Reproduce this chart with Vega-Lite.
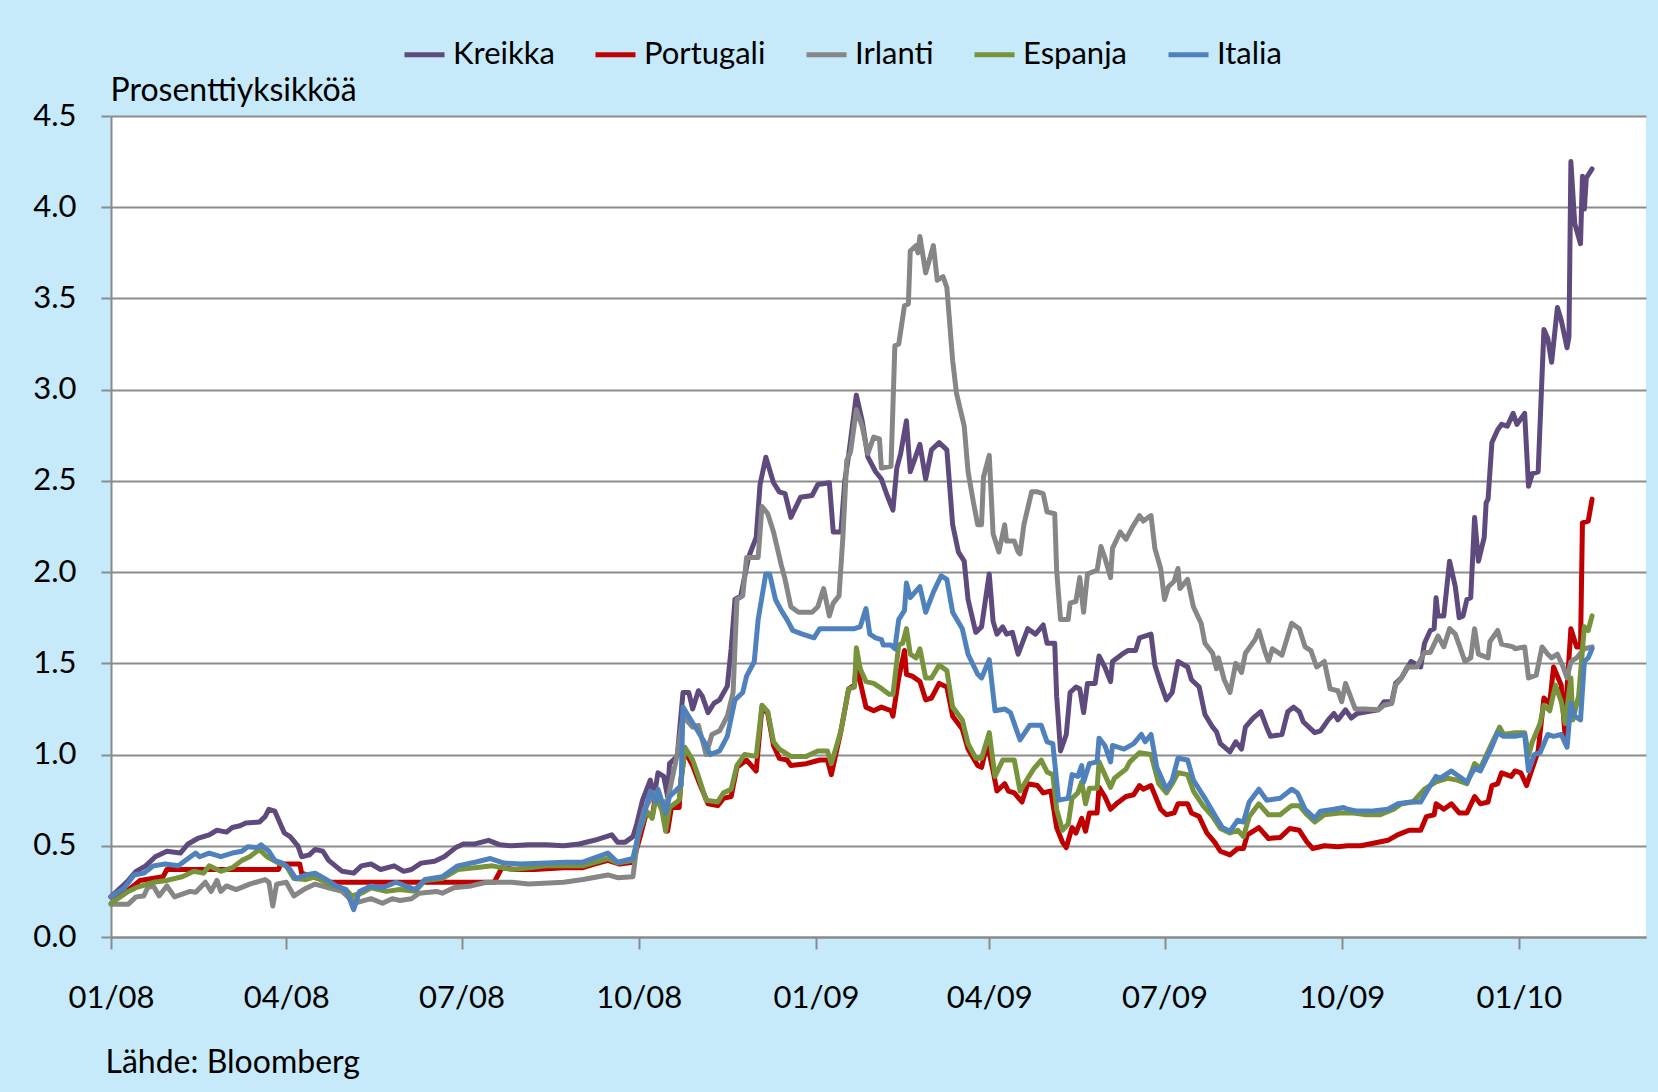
{
"$schema": "https://vega.github.io/schema/vega-lite/v6.json",
"width": 1535, "height": 821,
"autosize": {"type": "none"},
"padding": {"left": 111, "top": 116, "right": 12, "bottom": 155},
"background": "#c6eaf9",
"config": {"view": {"fill": "white", "stroke": null}, "font": "Lato"},
"data": {"values": [
{"d":"2008-01-01","s":"Kreikka","v":0.22},{"d":"2008-01-10","s":"Kreikka","v":0.31},{"d":"2008-01-14","s":"Kreikka","v":0.36},{"d":"2008-01-19","s":"Kreikka","v":0.39},{"d":"2008-01-24","s":"Kreikka","v":0.44},{"d":"2008-01-30","s":"Kreikka","v":0.47},{"d":"2008-02-06","s":"Kreikka","v":0.46},{"d":"2008-02-10","s":"Kreikka","v":0.51},{"d":"2008-02-15","s":"Kreikka","v":0.54},{"d":"2008-02-21","s":"Kreikka","v":0.56},{"d":"2008-02-25","s":"Kreikka","v":0.585},{"d":"2008-03-01","s":"Kreikka","v":0.575},{"d":"2008-03-04","s":"Kreikka","v":0.60},{"d":"2008-03-08","s":"Kreikka","v":0.61},{"d":"2008-03-11","s":"Kreikka","v":0.625},{"d":"2008-03-18","s":"Kreikka","v":0.63},{"d":"2008-03-21","s":"Kreikka","v":0.66},{"d":"2008-03-23","s":"Kreikka","v":0.70},{"d":"2008-03-26","s":"Kreikka","v":0.69},{"d":"2008-03-31","s":"Kreikka","v":0.57},{"d":"2008-04-03","s":"Kreikka","v":0.55},{"d":"2008-04-07","s":"Kreikka","v":0.50},{"d":"2008-04-09","s":"Kreikka","v":0.44},{"d":"2008-04-13","s":"Kreikka","v":0.45},{"d":"2008-04-16","s":"Kreikka","v":0.48},{"d":"2008-04-20","s":"Kreikka","v":0.47},{"d":"2008-04-23","s":"Kreikka","v":0.42},{"d":"2008-04-30","s":"Kreikka","v":0.36},{"d":"2008-05-06","s":"Kreikka","v":0.35},{"d":"2008-05-10","s":"Kreikka","v":0.39},{"d":"2008-05-15","s":"Kreikka","v":0.40},{"d":"2008-05-20","s":"Kreikka","v":0.37},{"d":"2008-05-27","s":"Kreikka","v":0.39},{"d":"2008-06-01","s":"Kreikka","v":0.36},{"d":"2008-06-05","s":"Kreikka","v":0.37},{"d":"2008-06-10","s":"Kreikka","v":0.405},{"d":"2008-06-17","s":"Kreikka","v":0.415},{"d":"2008-06-22","s":"Kreikka","v":0.44},{"d":"2008-06-28","s":"Kreikka","v":0.49},{"d":"2008-07-02","s":"Kreikka","v":0.51},{"d":"2008-07-08","s":"Kreikka","v":0.51},{"d":"2008-07-15","s":"Kreikka","v":0.53},{"d":"2008-07-21","s":"Kreikka","v":0.505},{"d":"2008-07-27","s":"Kreikka","v":0.50},{"d":"2008-08-05","s":"Kreikka","v":0.505},{"d":"2008-08-14","s":"Kreikka","v":0.505},{"d":"2008-08-23","s":"Kreikka","v":0.50},{"d":"2008-08-31","s":"Kreikka","v":0.51},{"d":"2008-09-08","s":"Kreikka","v":0.53},{"d":"2008-09-17","s":"Kreikka","v":0.56},{"d":"2008-09-20","s":"Kreikka","v":0.52},{"d":"2008-09-24","s":"Kreikka","v":0.52},{"d":"2008-09-28","s":"Kreikka","v":0.55},{"d":"2008-09-30","s":"Kreikka","v":0.62},{"d":"2008-10-03","s":"Kreikka","v":0.75},{"d":"2008-10-07","s":"Kreikka","v":0.86},{"d":"2008-10-09","s":"Kreikka","v":0.77},{"d":"2008-10-11","s":"Kreikka","v":0.90},{"d":"2008-10-14","s":"Kreikka","v":0.88},{"d":"2008-10-16","s":"Kreikka","v":0.77},{"d":"2008-10-17","s":"Kreikka","v":0.95},{"d":"2008-10-21","s":"Kreikka","v":0.99},{"d":"2008-10-24","s":"Kreikka","v":1.34},{"d":"2008-10-27","s":"Kreikka","v":1.34},{"d":"2008-10-29","s":"Kreikka","v":1.25},{"d":"2008-11-01","s":"Kreikka","v":1.35},{"d":"2008-11-03","s":"Kreikka","v":1.32},{"d":"2008-11-06","s":"Kreikka","v":1.23},{"d":"2008-11-09","s":"Kreikka","v":1.28},{"d":"2008-11-12","s":"Kreikka","v":1.30},{"d":"2008-11-16","s":"Kreikka","v":1.375},{"d":"2008-11-18","s":"Kreikka","v":1.58},{"d":"2008-11-20","s":"Kreikka","v":1.85},{"d":"2008-11-23","s":"Kreikka","v":1.87},{"d":"2008-11-27","s":"Kreikka","v":2.08},{"d":"2008-12-01","s":"Kreikka","v":2.19},{"d":"2008-12-03","s":"Kreikka","v":2.48},{"d":"2008-12-06","s":"Kreikka","v":2.63},{"d":"2008-12-10","s":"Kreikka","v":2.49},{"d":"2008-12-13","s":"Kreikka","v":2.44},{"d":"2008-12-16","s":"Kreikka","v":2.43},{"d":"2008-12-19","s":"Kreikka","v":2.30},{"d":"2008-12-24","s":"Kreikka","v":2.41},{"d":"2008-12-30","s":"Kreikka","v":2.42},{"d":"2009-01-02","s":"Kreikka","v":2.48},{"d":"2009-01-08","s":"Kreikka","v":2.49},{"d":"2009-01-10","s":"Kreikka","v":2.22},{"d":"2009-01-14","s":"Kreikka","v":2.22},{"d":"2009-01-16","s":"Kreikka","v":2.50},{"d":"2009-01-18","s":"Kreikka","v":2.64},{"d":"2009-01-22","s":"Kreikka","v":2.97},{"d":"2009-01-25","s":"Kreikka","v":2.83},{"d":"2009-01-28","s":"Kreikka","v":2.63},{"d":"2009-02-01","s":"Kreikka","v":2.55},{"d":"2009-02-04","s":"Kreikka","v":2.51},{"d":"2009-02-07","s":"Kreikka","v":2.42},{"d":"2009-02-10","s":"Kreikka","v":2.34},{"d":"2009-02-12","s":"Kreikka","v":2.57},{"d":"2009-02-14","s":"Kreikka","v":2.65},{"d":"2009-02-17","s":"Kreikka","v":2.83},{"d":"2009-02-19","s":"Kreikka","v":2.55},{"d":"2009-02-21","s":"Kreikka","v":2.61},{"d":"2009-02-24","s":"Kreikka","v":2.70},{"d":"2009-02-27","s":"Kreikka","v":2.51},{"d":"2009-03-02","s":"Kreikka","v":2.67},{"d":"2009-03-06","s":"Kreikka","v":2.71},{"d":"2009-03-10","s":"Kreikka","v":2.67},{"d":"2009-03-13","s":"Kreikka","v":2.26},{"d":"2009-03-16","s":"Kreikka","v":2.11},{"d":"2009-03-19","s":"Kreikka","v":2.06},{"d":"2009-03-21","s":"Kreikka","v":1.85},{"d":"2009-03-25","s":"Kreikka","v":1.67},{"d":"2009-03-28","s":"Kreikka","v":1.70},{"d":"2009-04-01","s":"Kreikka","v":1.99},{"d":"2009-04-03","s":"Kreikka","v":1.73},{"d":"2009-04-05","s":"Kreikka","v":1.66},{"d":"2009-04-08","s":"Kreikka","v":1.70},{"d":"2009-04-10","s":"Kreikka","v":1.66},{"d":"2009-04-13","s":"Kreikka","v":1.67},{"d":"2009-04-16","s":"Kreikka","v":1.55},{"d":"2009-04-21","s":"Kreikka","v":1.69},{"d":"2009-04-25","s":"Kreikka","v":1.66},{"d":"2009-04-29","s":"Kreikka","v":1.71},{"d":"2009-05-01","s":"Kreikka","v":1.61},{"d":"2009-05-05","s":"Kreikka","v":1.61},{"d":"2009-05-06","s":"Kreikka","v":1.32},{"d":"2009-05-08","s":"Kreikka","v":1.02},{"d":"2009-05-11","s":"Kreikka","v":1.11},{"d":"2009-05-13","s":"Kreikka","v":1.34},{"d":"2009-05-16","s":"Kreikka","v":1.37},{"d":"2009-05-18","s":"Kreikka","v":1.36},{"d":"2009-05-20","s":"Kreikka","v":1.23},{"d":"2009-05-22","s":"Kreikka","v":1.39},{"d":"2009-05-26","s":"Kreikka","v":1.39},{"d":"2009-05-28","s":"Kreikka","v":1.54},{"d":"2009-05-31","s":"Kreikka","v":1.48},{"d":"2009-06-03","s":"Kreikka","v":1.40},{"d":"2009-06-04","s":"Kreikka","v":1.51},{"d":"2009-06-09","s":"Kreikka","v":1.55},{"d":"2009-06-12","s":"Kreikka","v":1.57},{"d":"2009-06-16","s":"Kreikka","v":1.57},{"d":"2009-06-18","s":"Kreikka","v":1.64},{"d":"2009-06-24","s":"Kreikka","v":1.66},{"d":"2009-06-26","s":"Kreikka","v":1.49},{"d":"2009-06-29","s":"Kreikka","v":1.39},{"d":"2009-07-02","s":"Kreikka","v":1.30},{"d":"2009-07-05","s":"Kreikka","v":1.34},{"d":"2009-07-08","s":"Kreikka","v":1.51},{"d":"2009-07-13","s":"Kreikka","v":1.48},{"d":"2009-07-15","s":"Kreikka","v":1.41},{"d":"2009-07-19","s":"Kreikka","v":1.37},{"d":"2009-07-22","s":"Kreikka","v":1.22},{"d":"2009-07-26","s":"Kreikka","v":1.15},{"d":"2009-07-28","s":"Kreikka","v":1.125},{"d":"2009-07-30","s":"Kreikka","v":1.06},{"d":"2009-08-04","s":"Kreikka","v":1.015},{"d":"2009-08-07","s":"Kreikka","v":1.07},{"d":"2009-08-10","s":"Kreikka","v":1.03},{"d":"2009-08-12","s":"Kreikka","v":1.15},{"d":"2009-08-16","s":"Kreikka","v":1.20},{"d":"2009-08-20","s":"Kreikka","v":1.235},{"d":"2009-08-23","s":"Kreikka","v":1.15},{"d":"2009-08-25","s":"Kreikka","v":1.10},{"d":"2009-08-31","s":"Kreikka","v":1.11},{"d":"2009-09-03","s":"Kreikka","v":1.235},{"d":"2009-09-06","s":"Kreikka","v":1.26},{"d":"2009-09-09","s":"Kreikka","v":1.235},{"d":"2009-09-11","s":"Kreikka","v":1.18},{"d":"2009-09-17","s":"Kreikka","v":1.12},{"d":"2009-09-20","s":"Kreikka","v":1.13},{"d":"2009-09-24","s":"Kreikka","v":1.19},{"d":"2009-09-27","s":"Kreikka","v":1.225},{"d":"2009-09-29","s":"Kreikka","v":1.19},{"d":"2009-10-03","s":"Kreikka","v":1.245},{"d":"2009-10-06","s":"Kreikka","v":1.20},{"d":"2009-10-09","s":"Kreikka","v":1.225},{"d":"2009-10-14","s":"Kreikka","v":1.235},{"d":"2009-10-20","s":"Kreikka","v":1.245},{"d":"2009-10-23","s":"Kreikka","v":1.29},{"d":"2009-10-27","s":"Kreikka","v":1.29},{"d":"2009-10-29","s":"Kreikka","v":1.39},{"d":"2009-11-01","s":"Kreikka","v":1.42},{"d":"2009-11-06","s":"Kreikka","v":1.51},{"d":"2009-11-11","s":"Kreikka","v":1.48},{"d":"2009-11-13","s":"Kreikka","v":1.61},{"d":"2009-11-16","s":"Kreikka","v":1.68},{"d":"2009-11-18","s":"Kreikka","v":1.69},{"d":"2009-11-19","s":"Kreikka","v":1.86},{"d":"2009-11-20","s":"Kreikka","v":1.76},{"d":"2009-11-23","s":"Kreikka","v":1.76},{"d":"2009-11-26","s":"Kreikka","v":2.06},{"d":"2009-11-29","s":"Kreikka","v":1.92},{"d":"2009-12-01","s":"Kreikka","v":1.75},{"d":"2009-12-03","s":"Kreikka","v":1.76},{"d":"2009-12-05","s":"Kreikka","v":1.85},{"d":"2009-12-07","s":"Kreikka","v":1.86},{"d":"2009-12-09","s":"Kreikka","v":2.30},{"d":"2009-12-11","s":"Kreikka","v":2.06},{"d":"2009-12-14","s":"Kreikka","v":2.19},{"d":"2009-12-15","s":"Kreikka","v":2.38},{"d":"2009-12-16","s":"Kreikka","v":2.40},{"d":"2009-12-18","s":"Kreikka","v":2.71},{"d":"2009-12-21","s":"Kreikka","v":2.78},{"d":"2009-12-23","s":"Kreikka","v":2.81},{"d":"2009-12-26","s":"Kreikka","v":2.80},{"d":"2009-12-29","s":"Kreikka","v":2.87},{"d":"2009-12-31","s":"Kreikka","v":2.81},{"d":"2010-01-04","s":"Kreikka","v":2.87},{"d":"2010-01-06","s":"Kreikka","v":2.47},{"d":"2010-01-08","s":"Kreikka","v":2.54},{"d":"2010-01-11","s":"Kreikka","v":2.55},{"d":"2010-01-14","s":"Kreikka","v":3.33},{"d":"2010-01-16","s":"Kreikka","v":3.28},{"d":"2010-01-18","s":"Kreikka","v":3.15},{"d":"2010-01-21","s":"Kreikka","v":3.45},{"d":"2010-01-23","s":"Kreikka","v":3.38},{"d":"2010-01-26","s":"Kreikka","v":3.23},{"d":"2010-01-27","s":"Kreikka","v":3.29},{"d":"2010-01-28","s":"Kreikka","v":4.25},{"d":"2010-01-30","s":"Kreikka","v":3.91},{"d":"2010-02-02","s":"Kreikka","v":3.80},{"d":"2010-02-03","s":"Kreikka","v":4.17},{"d":"2010-02-04","s":"Kreikka","v":3.99},{"d":"2010-02-05","s":"Kreikka","v":4.16},{"d":"2010-02-08","s":"Kreikka","v":4.21},
{"d":"2008-01-01","s":"Portugali","v":0.22},{"d":"2008-01-09","s":"Portugali","v":0.25},{"d":"2008-01-15","s":"Portugali","v":0.30},{"d":"2008-01-16","s":"Portugali","v":0.31},{"d":"2008-01-28","s":"Portugali","v":0.33},{"d":"2008-01-30","s":"Portugali","v":0.37},{"d":"2008-03-28","s":"Portugali","v":0.37},{"d":"2008-03-29","s":"Portugali","v":0.40},{"d":"2008-04-08","s":"Portugali","v":0.40},{"d":"2008-04-09","s":"Portugali","v":0.35},{"d":"2008-04-15","s":"Portugali","v":0.33},{"d":"2008-04-23","s":"Portugali","v":0.30},{"d":"2008-07-18","s":"Portugali","v":0.30},{"d":"2008-07-22","s":"Portugali","v":0.38},{"d":"2008-07-29","s":"Portugali","v":0.37},{"d":"2008-08-08","s":"Portugali","v":0.37},{"d":"2008-08-23","s":"Portugali","v":0.38},{"d":"2008-09-02","s":"Portugali","v":0.38},{"d":"2008-09-08","s":"Portugali","v":0.40},{"d":"2008-09-15","s":"Portugali","v":0.42},{"d":"2008-09-21","s":"Portugali","v":0.40},{"d":"2008-09-28","s":"Portugali","v":0.41},{"d":"2008-10-02","s":"Portugali","v":0.56},{"d":"2008-10-05","s":"Portugali","v":0.68},{"d":"2008-10-08","s":"Portugali","v":0.66},{"d":"2008-10-10","s":"Portugali","v":0.79},{"d":"2008-10-14","s":"Portugali","v":0.67},{"d":"2008-10-16","s":"Portugali","v":0.58},{"d":"2008-10-18","s":"Portugali","v":0.71},{"d":"2008-10-22","s":"Portugali","v":0.71},{"d":"2008-10-23","s":"Portugali","v":0.87},{"d":"2008-10-25","s":"Portugali","v":1.02},{"d":"2008-10-29","s":"Portugali","v":0.94},{"d":"2008-11-02","s":"Portugali","v":0.83},{"d":"2008-11-06","s":"Portugali","v":0.73},{"d":"2008-11-11","s":"Portugali","v":0.72},{"d":"2008-11-14","s":"Portugali","v":0.76},{"d":"2008-11-18","s":"Portugali","v":0.77},{"d":"2008-11-21","s":"Portugali","v":0.93},{"d":"2008-11-26","s":"Portugali","v":0.97},{"d":"2008-12-01","s":"Portugali","v":0.91},{"d":"2008-12-04","s":"Portugali","v":1.26},{"d":"2008-12-07","s":"Portugali","v":1.225},{"d":"2008-12-10","s":"Portugali","v":1.05},{"d":"2008-12-13","s":"Portugali","v":0.98},{"d":"2008-12-17","s":"Portugali","v":0.97},{"d":"2008-12-19","s":"Portugali","v":0.94},{"d":"2008-12-27","s":"Portugali","v":0.95},{"d":"2009-01-03","s":"Portugali","v":0.97},{"d":"2009-01-07","s":"Portugali","v":0.97},{"d":"2009-01-09","s":"Portugali","v":0.89},{"d":"2009-01-14","s":"Portugali","v":1.13},{"d":"2009-01-18","s":"Portugali","v":1.36},{"d":"2009-01-21","s":"Portugali","v":1.38},{"d":"2009-01-22","s":"Portugali","v":1.49},{"d":"2009-01-27","s":"Portugali","v":1.26},{"d":"2009-01-31","s":"Portugali","v":1.24},{"d":"2009-02-04","s":"Portugali","v":1.26},{"d":"2009-02-09","s":"Portugali","v":1.24},{"d":"2009-02-10","s":"Portugali","v":1.21},{"d":"2009-02-13","s":"Portugali","v":1.42},{"d":"2009-02-16","s":"Portugali","v":1.57},{"d":"2009-02-17","s":"Portugali","v":1.44},{"d":"2009-02-20","s":"Portugali","v":1.43},{"d":"2009-02-24","s":"Portugali","v":1.40},{"d":"2009-02-27","s":"Portugali","v":1.30},{"d":"2009-03-02","s":"Portugali","v":1.31},{"d":"2009-03-06","s":"Portugali","v":1.39},{"d":"2009-03-10","s":"Portugali","v":1.37},{"d":"2009-03-13","s":"Portugali","v":1.21},{"d":"2009-03-18","s":"Portugali","v":1.14},{"d":"2009-03-21","s":"Portugali","v":1.03},{"d":"2009-03-26","s":"Portugali","v":0.94},{"d":"2009-03-28","s":"Portugali","v":0.93},{"d":"2009-03-31","s":"Portugali","v":1.06},{"d":"2009-04-03","s":"Portugali","v":0.91},{"d":"2009-04-05","s":"Portugali","v":0.80},{"d":"2009-04-09","s":"Portugali","v":0.84},{"d":"2009-04-11","s":"Portugali","v":0.80},{"d":"2009-04-14","s":"Portugali","v":0.79},{"d":"2009-04-18","s":"Portugali","v":0.74},{"d":"2009-04-21","s":"Portugali","v":0.84},{"d":"2009-04-26","s":"Portugali","v":0.83},{"d":"2009-04-29","s":"Portugali","v":0.79},{"d":"2009-05-03","s":"Portugali","v":0.80},{"d":"2009-05-06","s":"Portugali","v":0.60},{"d":"2009-05-09","s":"Portugali","v":0.52},{"d":"2009-05-11","s":"Portugali","v":0.49},{"d":"2009-05-14","s":"Portugali","v":0.60},{"d":"2009-05-16","s":"Portugali","v":0.57},{"d":"2009-05-19","s":"Portugali","v":0.65},{"d":"2009-05-21","s":"Portugali","v":0.58},{"d":"2009-05-23","s":"Portugali","v":0.68},{"d":"2009-05-27","s":"Portugali","v":0.68},{"d":"2009-05-28","s":"Portugali","v":0.82},{"d":"2009-05-31","s":"Portugali","v":0.77},{"d":"2009-06-03","s":"Portugali","v":0.70},{"d":"2009-06-06","s":"Portugali","v":0.73},{"d":"2009-06-11","s":"Portugali","v":0.77},{"d":"2009-06-15","s":"Portugali","v":0.78},{"d":"2009-06-18","s":"Portugali","v":0.83},{"d":"2009-06-20","s":"Portugali","v":0.81},{"d":"2009-06-24","s":"Portugali","v":0.83},{"d":"2009-06-29","s":"Portugali","v":0.70},{"d":"2009-07-02","s":"Portugali","v":0.67},{"d":"2009-07-06","s":"Portugali","v":0.68},{"d":"2009-07-08","s":"Portugali","v":0.73},{"d":"2009-07-13","s":"Portugali","v":0.73},{"d":"2009-07-15","s":"Portugali","v":0.68},{"d":"2009-07-19","s":"Portugali","v":0.66},{"d":"2009-07-23","s":"Portugali","v":0.57},{"d":"2009-07-27","s":"Portugali","v":0.52},{"d":"2009-07-30","s":"Portugali","v":0.47},{"d":"2009-08-04","s":"Portugali","v":0.45},{"d":"2009-08-08","s":"Portugali","v":0.485},{"d":"2009-08-11","s":"Portugali","v":0.485},{"d":"2009-08-13","s":"Portugali","v":0.56},{"d":"2009-08-19","s":"Portugali","v":0.60},{"d":"2009-08-24","s":"Portugali","v":0.54},{"d":"2009-08-30","s":"Portugali","v":0.545},{"d":"2009-09-04","s":"Portugali","v":0.595},{"d":"2009-09-09","s":"Portugali","v":0.585},{"d":"2009-09-13","s":"Portugali","v":0.52},{"d":"2009-09-16","s":"Portugali","v":0.485},{"d":"2009-09-22","s":"Portugali","v":0.50},{"d":"2009-09-29","s":"Portugali","v":0.495},{"d":"2009-10-04","s":"Portugali","v":0.50},{"d":"2009-10-11","s":"Portugali","v":0.50},{"d":"2009-10-18","s":"Portugali","v":0.515},{"d":"2009-10-25","s":"Portugali","v":0.53},{"d":"2009-10-30","s":"Portugali","v":0.56},{"d":"2009-11-05","s":"Portugali","v":0.585},{"d":"2009-11-11","s":"Portugali","v":0.585},{"d":"2009-11-14","s":"Portugali","v":0.66},{"d":"2009-11-18","s":"Portugali","v":0.67},{"d":"2009-11-19","s":"Portugali","v":0.73},{"d":"2009-11-23","s":"Portugali","v":0.70},{"d":"2009-11-27","s":"Portugali","v":0.73},{"d":"2009-12-01","s":"Portugali","v":0.68},{"d":"2009-12-05","s":"Portugali","v":0.68},{"d":"2009-12-09","s":"Portugali","v":0.77},{"d":"2009-12-12","s":"Portugali","v":0.73},{"d":"2009-12-16","s":"Portugali","v":0.74},{"d":"2009-12-18","s":"Portugali","v":0.83},{"d":"2009-12-21","s":"Portugali","v":0.84},{"d":"2009-12-23","s":"Portugali","v":0.90},{"d":"2009-12-28","s":"Portugali","v":0.88},{"d":"2009-12-30","s":"Portugali","v":0.91},{"d":"2010-01-02","s":"Portugali","v":0.90},{"d":"2010-01-05","s":"Portugali","v":0.83},{"d":"2010-01-08","s":"Portugali","v":0.925},{"d":"2010-01-11","s":"Portugali","v":1.02},{"d":"2010-01-14","s":"Portugali","v":1.31},{"d":"2010-01-17","s":"Portugali","v":1.28},{"d":"2010-01-19","s":"Portugali","v":1.48},{"d":"2010-01-23","s":"Portugali","v":1.38},{"d":"2010-01-25","s":"Portugali","v":1.10},{"d":"2010-01-26","s":"Portugali","v":1.36},{"d":"2010-01-28","s":"Portugali","v":1.69},{"d":"2010-01-31","s":"Portugali","v":1.59},{"d":"2010-02-02","s":"Portugali","v":1.59},{"d":"2010-02-03","s":"Portugali","v":2.27},{"d":"2010-02-06","s":"Portugali","v":2.28},{"d":"2010-02-08","s":"Portugali","v":2.40},
{"d":"2008-01-01","s":"Irlanti","v":0.18},{"d":"2008-01-10","s":"Irlanti","v":0.18},{"d":"2008-01-14","s":"Irlanti","v":0.22},{"d":"2008-01-18","s":"Irlanti","v":0.225},{"d":"2008-01-20","s":"Irlanti","v":0.27},{"d":"2008-01-23","s":"Irlanti","v":0.28},{"d":"2008-01-26","s":"Irlanti","v":0.225},{"d":"2008-01-30","s":"Irlanti","v":0.28},{"d":"2008-02-03","s":"Irlanti","v":0.22},{"d":"2008-02-11","s":"Irlanti","v":0.25},{"d":"2008-02-14","s":"Irlanti","v":0.245},{"d":"2008-02-19","s":"Irlanti","v":0.30},{"d":"2008-02-22","s":"Irlanti","v":0.25},{"d":"2008-02-25","s":"Irlanti","v":0.31},{"d":"2008-02-27","s":"Irlanti","v":0.25},{"d":"2008-03-01","s":"Irlanti","v":0.28},{"d":"2008-03-06","s":"Irlanti","v":0.26},{"d":"2008-03-13","s":"Irlanti","v":0.29},{"d":"2008-03-21","s":"Irlanti","v":0.315},{"d":"2008-03-23","s":"Irlanti","v":0.30},{"d":"2008-03-25","s":"Irlanti","v":0.17},{"d":"2008-03-27","s":"Irlanti","v":0.29},{"d":"2008-04-01","s":"Irlanti","v":0.30},{"d":"2008-04-05","s":"Irlanti","v":0.225},{"d":"2008-04-10","s":"Irlanti","v":0.26},{"d":"2008-04-16","s":"Irlanti","v":0.29},{"d":"2008-04-23","s":"Irlanti","v":0.27},{"d":"2008-04-30","s":"Irlanti","v":0.25},{"d":"2008-05-04","s":"Irlanti","v":0.21},{"d":"2008-05-08","s":"Irlanti","v":0.19},{"d":"2008-05-15","s":"Irlanti","v":0.21},{"d":"2008-05-21","s":"Irlanti","v":0.185},{"d":"2008-05-26","s":"Irlanti","v":0.21},{"d":"2008-05-30","s":"Irlanti","v":0.20},{"d":"2008-06-05","s":"Irlanti","v":0.21},{"d":"2008-06-09","s":"Irlanti","v":0.24},{"d":"2008-06-18","s":"Irlanti","v":0.25},{"d":"2008-06-21","s":"Irlanti","v":0.24},{"d":"2008-06-27","s":"Irlanti","v":0.27},{"d":"2008-07-06","s":"Irlanti","v":0.28},{"d":"2008-07-14","s":"Irlanti","v":0.30},{"d":"2008-07-27","s":"Irlanti","v":0.30},{"d":"2008-08-05","s":"Irlanti","v":0.29},{"d":"2008-08-23","s":"Irlanti","v":0.30},{"d":"2008-09-02","s":"Irlanti","v":0.315},{"d":"2008-09-15","s":"Irlanti","v":0.34},{"d":"2008-09-20","s":"Irlanti","v":0.325},{"d":"2008-09-28","s":"Irlanti","v":0.33},{"d":"2008-10-01","s":"Irlanti","v":0.58},{"d":"2008-10-04","s":"Irlanti","v":0.70},{"d":"2008-10-09","s":"Irlanti","v":0.79},{"d":"2008-10-13","s":"Irlanti","v":0.73},{"d":"2008-10-16","s":"Irlanti","v":0.75},{"d":"2008-10-21","s":"Irlanti","v":1.00},{"d":"2008-10-24","s":"Irlanti","v":1.21},{"d":"2008-10-29","s":"Irlanti","v":1.15},{"d":"2008-11-01","s":"Irlanti","v":1.16},{"d":"2008-11-05","s":"Irlanti","v":1.00},{"d":"2008-11-08","s":"Irlanti","v":1.11},{"d":"2008-11-12","s":"Irlanti","v":1.13},{"d":"2008-11-16","s":"Irlanti","v":1.21},{"d":"2008-11-19","s":"Irlanti","v":1.34},{"d":"2008-11-21","s":"Irlanti","v":1.85},{"d":"2008-11-24","s":"Irlanti","v":1.87},{"d":"2008-11-26","s":"Irlanti","v":2.08},{"d":"2008-12-02","s":"Irlanti","v":2.08},{"d":"2008-12-04","s":"Irlanti","v":2.36},{"d":"2008-12-07","s":"Irlanti","v":2.32},{"d":"2008-12-10","s":"Irlanti","v":2.22},{"d":"2008-12-12","s":"Irlanti","v":2.13},{"d":"2008-12-14","s":"Irlanti","v":2.04},{"d":"2008-12-16","s":"Irlanti","v":1.96},{"d":"2008-12-19","s":"Irlanti","v":1.81},{"d":"2008-12-23","s":"Irlanti","v":1.78},{"d":"2008-12-30","s":"Irlanti","v":1.78},{"d":"2009-01-02","s":"Irlanti","v":1.81},{"d":"2009-01-05","s":"Irlanti","v":1.91},{"d":"2009-01-08","s":"Irlanti","v":1.76},{"d":"2009-01-10","s":"Irlanti","v":1.83},{"d":"2009-01-13","s":"Irlanti","v":1.87},{"d":"2009-01-15","s":"Irlanti","v":2.19},{"d":"2009-01-17","s":"Irlanti","v":2.61},{"d":"2009-01-19","s":"Irlanti","v":2.66},{"d":"2009-01-22","s":"Irlanti","v":2.89},{"d":"2009-01-25","s":"Irlanti","v":2.80},{"d":"2009-01-28","s":"Irlanti","v":2.65},{"d":"2009-01-31","s":"Irlanti","v":2.74},{"d":"2009-02-03","s":"Irlanti","v":2.73},{"d":"2009-02-04","s":"Irlanti","v":2.57},{"d":"2009-02-09","s":"Irlanti","v":2.58},{"d":"2009-02-11","s":"Irlanti","v":3.24},{"d":"2009-02-13","s":"Irlanti","v":3.25},{"d":"2009-02-16","s":"Irlanti","v":3.46},{"d":"2009-02-18","s":"Irlanti","v":3.47},{"d":"2009-02-19","s":"Irlanti","v":3.76},{"d":"2009-02-22","s":"Irlanti","v":3.79},{"d":"2009-02-23","s":"Irlanti","v":3.75},{"d":"2009-02-24","s":"Irlanti","v":3.84},{"d":"2009-02-27","s":"Irlanti","v":3.64},{"d":"2009-03-03","s":"Irlanti","v":3.79},{"d":"2009-03-05","s":"Irlanti","v":3.60},{"d":"2009-03-08","s":"Irlanti","v":3.62},{"d":"2009-03-10","s":"Irlanti","v":3.56},{"d":"2009-03-13","s":"Irlanti","v":3.16},{"d":"2009-03-15","s":"Irlanti","v":2.98},{"d":"2009-03-19","s":"Irlanti","v":2.80},{"d":"2009-03-21","s":"Irlanti","v":2.55},{"d":"2009-03-24","s":"Irlanti","v":2.37},{"d":"2009-03-26","s":"Irlanti","v":2.26},{"d":"2009-03-28","s":"Irlanti","v":2.26},{"d":"2009-03-29","s":"Irlanti","v":2.52},{"d":"2009-04-01","s":"Irlanti","v":2.64},{"d":"2009-04-03","s":"Irlanti","v":2.21},{"d":"2009-04-06","s":"Irlanti","v":2.11},{"d":"2009-04-09","s":"Irlanti","v":2.26},{"d":"2009-04-10","s":"Irlanti","v":2.17},{"d":"2009-04-14","s":"Irlanti","v":2.17},{"d":"2009-04-16","s":"Irlanti","v":2.11},{"d":"2009-04-17","s":"Irlanti","v":2.10},{"d":"2009-04-19","s":"Irlanti","v":2.26},{"d":"2009-04-23","s":"Irlanti","v":2.44},{"d":"2009-04-26","s":"Irlanti","v":2.44},{"d":"2009-04-29","s":"Irlanti","v":2.43},{"d":"2009-05-01","s":"Irlanti","v":2.33},{"d":"2009-05-05","s":"Irlanti","v":2.32},{"d":"2009-05-06","s":"Irlanti","v":2.01},{"d":"2009-05-08","s":"Irlanti","v":1.74},{"d":"2009-05-12","s":"Irlanti","v":1.74},{"d":"2009-05-13","s":"Irlanti","v":1.83},{"d":"2009-05-16","s":"Irlanti","v":1.84},{"d":"2009-05-18","s":"Irlanti","v":1.97},{"d":"2009-05-20","s":"Irlanti","v":1.78},{"d":"2009-05-22","s":"Irlanti","v":1.99},{"d":"2009-05-27","s":"Irlanti","v":2.01},{"d":"2009-05-29","s":"Irlanti","v":2.14},{"d":"2009-05-31","s":"Irlanti","v":2.08},{"d":"2009-06-03","s":"Irlanti","v":1.97},{"d":"2009-06-04","s":"Irlanti","v":2.13},{"d":"2009-06-08","s":"Irlanti","v":2.22},{"d":"2009-06-11","s":"Irlanti","v":2.18},{"d":"2009-06-14","s":"Irlanti","v":2.24},{"d":"2009-06-18","s":"Irlanti","v":2.31},{"d":"2009-06-20","s":"Irlanti","v":2.28},{"d":"2009-06-24","s":"Irlanti","v":2.31},{"d":"2009-06-26","s":"Irlanti","v":2.13},{"d":"2009-06-29","s":"Irlanti","v":2.02},{"d":"2009-07-01","s":"Irlanti","v":1.85},{"d":"2009-07-03","s":"Irlanti","v":1.92},{"d":"2009-07-06","s":"Irlanti","v":1.95},{"d":"2009-07-08","s":"Irlanti","v":2.02},{"d":"2009-07-09","s":"Irlanti","v":1.91},{"d":"2009-07-13","s":"Irlanti","v":1.96},{"d":"2009-07-16","s":"Irlanti","v":1.81},{"d":"2009-07-20","s":"Irlanti","v":1.72},{"d":"2009-07-22","s":"Irlanti","v":1.61},{"d":"2009-07-26","s":"Irlanti","v":1.555},{"d":"2009-07-28","s":"Irlanti","v":1.47},{"d":"2009-07-29","s":"Irlanti","v":1.53},{"d":"2009-08-01","s":"Irlanti","v":1.41},{"d":"2009-08-04","s":"Irlanti","v":1.34},{"d":"2009-08-07","s":"Irlanti","v":1.50},{"d":"2009-08-10","s":"Irlanti","v":1.45},{"d":"2009-08-12","s":"Irlanti","v":1.555},{"d":"2009-08-17","s":"Irlanti","v":1.63},{"d":"2009-08-19","s":"Irlanti","v":1.68},{"d":"2009-08-22","s":"Irlanti","v":1.57},{"d":"2009-08-24","s":"Irlanti","v":1.51},{"d":"2009-08-26","s":"Irlanti","v":1.58},{"d":"2009-08-31","s":"Irlanti","v":1.545},{"d":"2009-09-05","s":"Irlanti","v":1.72},{"d":"2009-09-09","s":"Irlanti","v":1.69},{"d":"2009-09-12","s":"Irlanti","v":1.59},{"d":"2009-09-15","s":"Irlanti","v":1.57},{"d":"2009-09-18","s":"Irlanti","v":1.48},{"d":"2009-09-22","s":"Irlanti","v":1.51},{"d":"2009-09-25","s":"Irlanti","v":1.36},{"d":"2009-09-29","s":"Irlanti","v":1.35},{"d":"2009-10-01","s":"Irlanti","v":1.29},{"d":"2009-10-03","s":"Irlanti","v":1.39},{"d":"2009-10-08","s":"Irlanti","v":1.25},{"d":"2009-10-13","s":"Irlanti","v":1.25},{"d":"2009-10-20","s":"Irlanti","v":1.245},{"d":"2009-10-23","s":"Irlanti","v":1.27},{"d":"2009-10-27","s":"Irlanti","v":1.28},{"d":"2009-10-29","s":"Irlanti","v":1.38},{"d":"2009-11-01","s":"Irlanti","v":1.42},{"d":"2009-11-04","s":"Irlanti","v":1.48},{"d":"2009-11-09","s":"Irlanti","v":1.48},{"d":"2009-11-13","s":"Irlanti","v":1.56},{"d":"2009-11-16","s":"Irlanti","v":1.56},{"d":"2009-11-20","s":"Irlanti","v":1.65},{"d":"2009-11-23","s":"Irlanti","v":1.59},{"d":"2009-11-26","s":"Irlanti","v":1.69},{"d":"2009-11-29","s":"Irlanti","v":1.66},{"d":"2009-12-04","s":"Irlanti","v":1.51},{"d":"2009-12-07","s":"Irlanti","v":1.53},{"d":"2009-12-09","s":"Irlanti","v":1.69},{"d":"2009-12-11","s":"Irlanti","v":1.55},{"d":"2009-12-16","s":"Irlanti","v":1.53},{"d":"2009-12-17","s":"Irlanti","v":1.62},{"d":"2009-12-21","s":"Irlanti","v":1.68},{"d":"2009-12-23","s":"Irlanti","v":1.605},{"d":"2009-12-29","s":"Irlanti","v":1.59},{"d":"2009-12-30","s":"Irlanti","v":1.58},{"d":"2010-01-04","s":"Irlanti","v":1.59},{"d":"2010-01-06","s":"Irlanti","v":1.42},{"d":"2010-01-10","s":"Irlanti","v":1.435},{"d":"2010-01-13","s":"Irlanti","v":1.59},{"d":"2010-01-16","s":"Irlanti","v":1.55},{"d":"2010-01-18","s":"Irlanti","v":1.53},{"d":"2010-01-21","s":"Irlanti","v":1.55},{"d":"2010-01-24","s":"Irlanti","v":1.48},{"d":"2010-01-26","s":"Irlanti","v":1.42},{"d":"2010-01-28","s":"Irlanti","v":1.51},{"d":"2010-01-31","s":"Irlanti","v":1.53},{"d":"2010-02-04","s":"Irlanti","v":1.58},{"d":"2010-02-08","s":"Irlanti","v":1.59},
{"d":"2008-01-01","s":"Espanja","v":0.185},{"d":"2008-01-10","s":"Espanja","v":0.25},{"d":"2008-01-14","s":"Espanja","v":0.27},{"d":"2008-01-23","s":"Espanja","v":0.30},{"d":"2008-01-30","s":"Espanja","v":0.31},{"d":"2008-02-07","s":"Espanja","v":0.33},{"d":"2008-02-13","s":"Espanja","v":0.36},{"d":"2008-02-18","s":"Espanja","v":0.35},{"d":"2008-02-21","s":"Espanja","v":0.39},{"d":"2008-02-27","s":"Espanja","v":0.36},{"d":"2008-03-04","s":"Espanja","v":0.38},{"d":"2008-03-09","s":"Espanja","v":0.42},{"d":"2008-03-13","s":"Espanja","v":0.44},{"d":"2008-03-18","s":"Espanja","v":0.48},{"d":"2008-03-22","s":"Espanja","v":0.44},{"d":"2008-03-28","s":"Espanja","v":0.405},{"d":"2008-04-01","s":"Espanja","v":0.39},{"d":"2008-04-05","s":"Espanja","v":0.32},{"d":"2008-04-11","s":"Espanja","v":0.315},{"d":"2008-04-16","s":"Espanja","v":0.33},{"d":"2008-04-23","s":"Espanja","v":0.29},{"d":"2008-05-02","s":"Espanja","v":0.26},{"d":"2008-05-05","s":"Espanja","v":0.225},{"d":"2008-05-10","s":"Espanja","v":0.24},{"d":"2008-05-15","s":"Espanja","v":0.27},{"d":"2008-05-23","s":"Espanja","v":0.25},{"d":"2008-05-30","s":"Espanja","v":0.26},{"d":"2008-06-07","s":"Espanja","v":0.25},{"d":"2008-06-12","s":"Espanja","v":0.31},{"d":"2008-06-21","s":"Espanja","v":0.32},{"d":"2008-06-29","s":"Espanja","v":0.37},{"d":"2008-07-08","s":"Espanja","v":0.38},{"d":"2008-07-17","s":"Espanja","v":0.39},{"d":"2008-07-27","s":"Espanja","v":0.37},{"d":"2008-08-05","s":"Espanja","v":0.38},{"d":"2008-08-14","s":"Espanja","v":0.39},{"d":"2008-08-23","s":"Espanja","v":0.39},{"d":"2008-09-02","s":"Espanja","v":0.39},{"d":"2008-09-07","s":"Espanja","v":0.405},{"d":"2008-09-15","s":"Espanja","v":0.43},{"d":"2008-09-20","s":"Espanja","v":0.405},{"d":"2008-09-28","s":"Espanja","v":0.42},{"d":"2008-10-01","s":"Espanja","v":0.56},{"d":"2008-10-05","s":"Espanja","v":0.69},{"d":"2008-10-08","s":"Espanja","v":0.65},{"d":"2008-10-10","s":"Espanja","v":0.77},{"d":"2008-10-13","s":"Espanja","v":0.695},{"d":"2008-10-15","s":"Espanja","v":0.58},{"d":"2008-10-17","s":"Espanja","v":0.71},{"d":"2008-10-22","s":"Espanja","v":0.75},{"d":"2008-10-25","s":"Espanja","v":1.04},{"d":"2008-10-29","s":"Espanja","v":0.97},{"d":"2008-11-01","s":"Espanja","v":0.88},{"d":"2008-11-05","s":"Espanja","v":0.75},{"d":"2008-11-11","s":"Espanja","v":0.74},{"d":"2008-11-14","s":"Espanja","v":0.79},{"d":"2008-11-18","s":"Espanja","v":0.81},{"d":"2008-11-21","s":"Espanja","v":0.94},{"d":"2008-11-25","s":"Espanja","v":1.00},{"d":"2008-12-01","s":"Espanja","v":0.99},{"d":"2008-12-04","s":"Espanja","v":1.27},{"d":"2008-12-07","s":"Espanja","v":1.235},{"d":"2008-12-10","s":"Espanja","v":1.07},{"d":"2008-12-13","s":"Espanja","v":1.03},{"d":"2008-12-19","s":"Espanja","v":0.99},{"d":"2008-12-27","s":"Espanja","v":0.99},{"d":"2009-01-02","s":"Espanja","v":1.02},{"d":"2009-01-07","s":"Espanja","v":1.02},{"d":"2009-01-09","s":"Espanja","v":0.95},{"d":"2009-01-14","s":"Espanja","v":1.13},{"d":"2009-01-18","s":"Espanja","v":1.36},{"d":"2009-01-21","s":"Espanja","v":1.37},{"d":"2009-01-22","s":"Espanja","v":1.585},{"d":"2009-01-24","s":"Espanja","v":1.47},{"d":"2009-01-27","s":"Espanja","v":1.40},{"d":"2009-01-31","s":"Espanja","v":1.39},{"d":"2009-02-03","s":"Espanja","v":1.37},{"d":"2009-02-08","s":"Espanja","v":1.33},{"d":"2009-02-10","s":"Espanja","v":1.33},{"d":"2009-02-13","s":"Espanja","v":1.60},{"d":"2009-02-15","s":"Espanja","v":1.61},{"d":"2009-02-17","s":"Espanja","v":1.69},{"d":"2009-02-19","s":"Espanja","v":1.55},{"d":"2009-02-22","s":"Espanja","v":1.53},{"d":"2009-02-24","s":"Espanja","v":1.58},{"d":"2009-02-27","s":"Espanja","v":1.42},{"d":"2009-03-02","s":"Espanja","v":1.42},{"d":"2009-03-06","s":"Espanja","v":1.49},{"d":"2009-03-10","s":"Espanja","v":1.46},{"d":"2009-03-13","s":"Espanja","v":1.26},{"d":"2009-03-18","s":"Espanja","v":1.19},{"d":"2009-03-21","s":"Espanja","v":1.06},{"d":"2009-03-25","s":"Espanja","v":0.98},{"d":"2009-03-28","s":"Espanja","v":0.98},{"d":"2009-04-01","s":"Espanja","v":1.12},{"d":"2009-04-04","s":"Espanja","v":0.88},{"d":"2009-04-08","s":"Espanja","v":0.97},{"d":"2009-04-14","s":"Espanja","v":0.97},{"d":"2009-04-17","s":"Espanja","v":0.80},{"d":"2009-04-21","s":"Espanja","v":0.87},{"d":"2009-04-24","s":"Espanja","v":0.92},{"d":"2009-04-28","s":"Espanja","v":0.97},{"d":"2009-05-01","s":"Espanja","v":0.905},{"d":"2009-05-04","s":"Espanja","v":0.89},{"d":"2009-05-06","s":"Espanja","v":0.70},{"d":"2009-05-09","s":"Espanja","v":0.585},{"d":"2009-05-12","s":"Espanja","v":0.62},{"d":"2009-05-14","s":"Espanja","v":0.76},{"d":"2009-05-17","s":"Espanja","v":0.79},{"d":"2009-05-19","s":"Espanja","v":0.85},{"d":"2009-05-21","s":"Espanja","v":0.73},{"d":"2009-05-23","s":"Espanja","v":0.815},{"d":"2009-05-27","s":"Espanja","v":0.815},{"d":"2009-05-28","s":"Espanja","v":0.96},{"d":"2009-05-31","s":"Espanja","v":0.89},{"d":"2009-06-03","s":"Espanja","v":0.82},{"d":"2009-06-05","s":"Espanja","v":0.87},{"d":"2009-06-11","s":"Espanja","v":0.92},{"d":"2009-06-13","s":"Espanja","v":0.96},{"d":"2009-06-18","s":"Espanja","v":1.01},{"d":"2009-06-24","s":"Espanja","v":1.00},{"d":"2009-06-28","s":"Espanja","v":0.84},{"d":"2009-07-02","s":"Espanja","v":0.79},{"d":"2009-07-05","s":"Espanja","v":0.84},{"d":"2009-07-08","s":"Espanja","v":0.90},{"d":"2009-07-13","s":"Espanja","v":0.89},{"d":"2009-07-16","s":"Espanja","v":0.80},{"d":"2009-07-21","s":"Espanja","v":0.72},{"d":"2009-07-26","s":"Espanja","v":0.66},{"d":"2009-07-30","s":"Espanja","v":0.595},{"d":"2009-08-04","s":"Espanja","v":0.57},{"d":"2009-08-08","s":"Espanja","v":0.585},{"d":"2009-08-11","s":"Espanja","v":0.55},{"d":"2009-08-14","s":"Espanja","v":0.66},{"d":"2009-08-19","s":"Espanja","v":0.73},{"d":"2009-08-24","s":"Espanja","v":0.67},{"d":"2009-08-30","s":"Espanja","v":0.67},{"d":"2009-09-05","s":"Espanja","v":0.72},{"d":"2009-09-09","s":"Espanja","v":0.72},{"d":"2009-09-13","s":"Espanja","v":0.67},{"d":"2009-09-17","s":"Espanja","v":0.63},{"d":"2009-09-22","s":"Espanja","v":0.67},{"d":"2009-09-30","s":"Espanja","v":0.68},{"d":"2009-10-07","s":"Espanja","v":0.68},{"d":"2009-10-14","s":"Espanja","v":0.67},{"d":"2009-10-21","s":"Espanja","v":0.67},{"d":"2009-10-28","s":"Espanja","v":0.70},{"d":"2009-11-01","s":"Espanja","v":0.73},{"d":"2009-11-07","s":"Espanja","v":0.74},{"d":"2009-11-13","s":"Espanja","v":0.81},{"d":"2009-11-19","s":"Espanja","v":0.85},{"d":"2009-11-25","s":"Espanja","v":0.87},{"d":"2009-11-30","s":"Espanja","v":0.86},{"d":"2009-12-05","s":"Espanja","v":0.84},{"d":"2009-12-09","s":"Espanja","v":0.95},{"d":"2009-12-12","s":"Espanja","v":0.925},{"d":"2009-12-17","s":"Espanja","v":1.04},{"d":"2009-12-22","s":"Espanja","v":1.15},{"d":"2009-12-24","s":"Espanja","v":1.11},{"d":"2009-12-30","s":"Espanja","v":1.12},{"d":"2010-01-04","s":"Espanja","v":1.12},{"d":"2010-01-06","s":"Espanja","v":0.995},{"d":"2010-01-08","s":"Espanja","v":1.07},{"d":"2010-01-12","s":"Espanja","v":1.17},{"d":"2010-01-14","s":"Espanja","v":1.27},{"d":"2010-01-17","s":"Espanja","v":1.24},{"d":"2010-01-20","s":"Espanja","v":1.38},{"d":"2010-01-23","s":"Espanja","v":1.29},{"d":"2010-01-25","s":"Espanja","v":1.17},{"d":"2010-01-28","s":"Espanja","v":1.42},{"d":"2010-01-29","s":"Espanja","v":1.19},{"d":"2010-02-01","s":"Espanja","v":1.32},{"d":"2010-02-04","s":"Espanja","v":1.70},{"d":"2010-02-06","s":"Espanja","v":1.68},{"d":"2010-02-08","s":"Espanja","v":1.76},
{"d":"2008-01-01","s":"Italia","v":0.22},{"d":"2008-01-08","s":"Italia","v":0.27},{"d":"2008-01-13","s":"Italia","v":0.34},{"d":"2008-01-18","s":"Italia","v":0.35},{"d":"2008-01-23","s":"Italia","v":0.39},{"d":"2008-01-29","s":"Italia","v":0.40},{"d":"2008-02-05","s":"Italia","v":0.39},{"d":"2008-02-10","s":"Italia","v":0.43},{"d":"2008-02-14","s":"Italia","v":0.46},{"d":"2008-02-16","s":"Italia","v":0.44},{"d":"2008-02-21","s":"Italia","v":0.46},{"d":"2008-02-27","s":"Italia","v":0.44},{"d":"2008-03-04","s":"Italia","v":0.46},{"d":"2008-03-09","s":"Italia","v":0.47},{"d":"2008-03-12","s":"Italia","v":0.495},{"d":"2008-03-17","s":"Italia","v":0.49},{"d":"2008-03-19","s":"Italia","v":0.505},{"d":"2008-03-23","s":"Italia","v":0.47},{"d":"2008-03-26","s":"Italia","v":0.42},{"d":"2008-03-30","s":"Italia","v":0.405},{"d":"2008-04-03","s":"Italia","v":0.37},{"d":"2008-04-06","s":"Italia","v":0.32},{"d":"2008-04-11","s":"Italia","v":0.34},{"d":"2008-04-16","s":"Italia","v":0.35},{"d":"2008-04-21","s":"Italia","v":0.32},{"d":"2008-04-27","s":"Italia","v":0.28},{"d":"2008-05-02","s":"Italia","v":0.26},{"d":"2008-05-06","s":"Italia","v":0.15},{"d":"2008-05-09","s":"Italia","v":0.25},{"d":"2008-05-15","s":"Italia","v":0.28},{"d":"2008-05-21","s":"Italia","v":0.27},{"d":"2008-05-28","s":"Italia","v":0.30},{"d":"2008-06-07","s":"Italia","v":0.26},{"d":"2008-06-12","s":"Italia","v":0.315},{"d":"2008-06-21","s":"Italia","v":0.33},{"d":"2008-06-29","s":"Italia","v":0.39},{"d":"2008-07-08","s":"Italia","v":0.41},{"d":"2008-07-16","s":"Italia","v":0.43},{"d":"2008-07-23","s":"Italia","v":0.405},{"d":"2008-08-01","s":"Italia","v":0.40},{"d":"2008-08-14","s":"Italia","v":0.405},{"d":"2008-08-24","s":"Italia","v":0.41},{"d":"2008-09-02","s":"Italia","v":0.41},{"d":"2008-09-07","s":"Italia","v":0.43},{"d":"2008-09-15","s":"Italia","v":0.46},{"d":"2008-09-20","s":"Italia","v":0.41},{"d":"2008-09-28","s":"Italia","v":0.43},{"d":"2008-10-01","s":"Italia","v":0.57},{"d":"2008-10-04","s":"Italia","v":0.68},{"d":"2008-10-07","s":"Italia","v":0.80},{"d":"2008-10-10","s":"Italia","v":0.74},{"d":"2008-10-11","s":"Italia","v":0.81},{"d":"2008-10-15","s":"Italia","v":0.68},{"d":"2008-10-17","s":"Italia","v":0.77},{"d":"2008-10-23","s":"Italia","v":0.83},{"d":"2008-10-24","s":"Italia","v":1.26},{"d":"2008-10-28","s":"Italia","v":1.19},{"d":"2008-10-31","s":"Italia","v":1.14},{"d":"2008-11-04","s":"Italia","v":1.07},{"d":"2008-11-07","s":"Italia","v":1.00},{"d":"2008-11-12","s":"Italia","v":1.02},{"d":"2008-11-16","s":"Italia","v":1.10},{"d":"2008-11-20","s":"Italia","v":1.30},{"d":"2008-11-24","s":"Italia","v":1.34},{"d":"2008-11-26","s":"Italia","v":1.43},{"d":"2008-11-30","s":"Italia","v":1.51},{"d":"2008-12-02","s":"Italia","v":1.74},{"d":"2008-12-06","s":"Italia","v":1.99},{"d":"2008-12-08","s":"Italia","v":1.99},{"d":"2008-12-11","s":"Italia","v":1.85},{"d":"2008-12-14","s":"Italia","v":1.79},{"d":"2008-12-17","s":"Italia","v":1.74},{"d":"2008-12-20","s":"Italia","v":1.68},{"d":"2008-12-25","s":"Italia","v":1.66},{"d":"2008-12-31","s":"Italia","v":1.64},{"d":"2009-01-03","s":"Italia","v":1.69},{"d":"2009-01-10","s":"Italia","v":1.69},{"d":"2009-01-21","s":"Italia","v":1.69},{"d":"2009-01-24","s":"Italia","v":1.70},{"d":"2009-01-27","s":"Italia","v":1.80},{"d":"2009-01-29","s":"Italia","v":1.66},{"d":"2009-02-01","s":"Italia","v":1.64},{"d":"2009-02-04","s":"Italia","v":1.63},{"d":"2009-02-05","s":"Italia","v":1.60},{"d":"2009-02-09","s":"Italia","v":1.60},{"d":"2009-02-11","s":"Italia","v":1.58},{"d":"2009-02-13","s":"Italia","v":1.74},{"d":"2009-02-16","s":"Italia","v":1.79},{"d":"2009-02-17","s":"Italia","v":1.94},{"d":"2009-02-19","s":"Italia","v":1.86},{"d":"2009-02-24","s":"Italia","v":1.92},{"d":"2009-02-27","s":"Italia","v":1.78},{"d":"2009-03-03","s":"Italia","v":1.89},{"d":"2009-03-07","s":"Italia","v":1.98},{"d":"2009-03-10","s":"Italia","v":1.96},{"d":"2009-03-13","s":"Italia","v":1.78},{"d":"2009-03-18","s":"Italia","v":1.69},{"d":"2009-03-21","s":"Italia","v":1.55},{"d":"2009-03-26","s":"Italia","v":1.44},{"d":"2009-03-28","s":"Italia","v":1.42},{"d":"2009-04-01","s":"Italia","v":1.52},{"d":"2009-04-04","s":"Italia","v":1.24},{"d":"2009-04-09","s":"Italia","v":1.25},{"d":"2009-04-12","s":"Italia","v":1.23},{"d":"2009-04-17","s":"Italia","v":1.08},{"d":"2009-04-22","s":"Italia","v":1.16},{"d":"2009-04-28","s":"Italia","v":1.16},{"d":"2009-05-01","s":"Italia","v":1.07},{"d":"2009-05-04","s":"Italia","v":1.06},{"d":"2009-05-07","s":"Italia","v":0.75},{"d":"2009-05-12","s":"Italia","v":0.76},{"d":"2009-05-14","s":"Italia","v":0.89},{"d":"2009-05-17","s":"Italia","v":0.88},{"d":"2009-05-19","s":"Italia","v":0.94},{"d":"2009-05-20","s":"Italia","v":0.85},{"d":"2009-05-23","s":"Italia","v":0.95},{"d":"2009-05-27","s":"Italia","v":0.96},{"d":"2009-05-28","s":"Italia","v":1.09},{"d":"2009-05-31","s":"Italia","v":1.05},{"d":"2009-06-03","s":"Italia","v":0.96},{"d":"2009-06-04","s":"Italia","v":1.05},{"d":"2009-06-10","s":"Italia","v":1.03},{"d":"2009-06-15","s":"Italia","v":1.06},{"d":"2009-06-19","s":"Italia","v":1.11},{"d":"2009-06-21","s":"Italia","v":1.07},{"d":"2009-06-24","s":"Italia","v":1.11},{"d":"2009-06-27","s":"Italia","v":0.93},{"d":"2009-07-02","s":"Italia","v":0.81},{"d":"2009-07-05","s":"Italia","v":0.86},{"d":"2009-07-08","s":"Italia","v":0.98},{"d":"2009-07-13","s":"Italia","v":0.97},{"d":"2009-07-16","s":"Italia","v":0.86},{"d":"2009-07-22","s":"Italia","v":0.76},{"d":"2009-07-27","s":"Italia","v":0.67},{"d":"2009-07-31","s":"Italia","v":0.60},{"d":"2009-08-04","s":"Italia","v":0.58},{"d":"2009-08-08","s":"Italia","v":0.64},{"d":"2009-08-11","s":"Italia","v":0.63},{"d":"2009-08-14","s":"Italia","v":0.74},{"d":"2009-08-19","s":"Italia","v":0.81},{"d":"2009-08-23","s":"Italia","v":0.75},{"d":"2009-08-30","s":"Italia","v":0.76},{"d":"2009-09-05","s":"Italia","v":0.81},{"d":"2009-09-08","s":"Italia","v":0.79},{"d":"2009-09-12","s":"Italia","v":0.70},{"d":"2009-09-17","s":"Italia","v":0.65},{"d":"2009-09-20","s":"Italia","v":0.69},{"d":"2009-09-27","s":"Italia","v":0.70},{"d":"2009-10-02","s":"Italia","v":0.71},{"d":"2009-10-04","s":"Italia","v":0.70},{"d":"2009-10-09","s":"Italia","v":0.69},{"d":"2009-10-16","s":"Italia","v":0.69},{"d":"2009-10-25","s":"Italia","v":0.70},{"d":"2009-10-30","s":"Italia","v":0.73},{"d":"2009-11-06","s":"Italia","v":0.74},{"d":"2009-11-11","s":"Italia","v":0.74},{"d":"2009-11-16","s":"Italia","v":0.83},{"d":"2009-11-19","s":"Italia","v":0.88},{"d":"2009-11-21","s":"Italia","v":0.87},{"d":"2009-11-27","s":"Italia","v":0.91},{"d":"2009-12-01","s":"Italia","v":0.88},{"d":"2009-12-05","s":"Italia","v":0.85},{"d":"2009-12-09","s":"Italia","v":0.925},{"d":"2009-12-12","s":"Italia","v":0.91},{"d":"2009-12-17","s":"Italia","v":1.02},{"d":"2009-12-21","s":"Italia","v":1.12},{"d":"2009-12-24","s":"Italia","v":1.10},{"d":"2009-12-30","s":"Italia","v":1.10},{"d":"2010-01-04","s":"Italia","v":1.11},{"d":"2010-01-06","s":"Italia","v":0.91},{"d":"2010-01-09","s":"Italia","v":1.00},{"d":"2010-01-12","s":"Italia","v":1.01},{"d":"2010-01-16","s":"Italia","v":1.11},{"d":"2010-01-19","s":"Italia","v":1.10},{"d":"2010-01-23","s":"Italia","v":1.11},{"d":"2010-01-26","s":"Italia","v":1.04},{"d":"2010-01-28","s":"Italia","v":1.28},{"d":"2010-01-30","s":"Italia","v":1.21},{"d":"2010-02-02","s":"Italia","v":1.19},{"d":"2010-02-04","s":"Italia","v":1.51},{"d":"2010-02-06","s":"Italia","v":1.53},{"d":"2010-02-08","s":"Italia","v":1.58}
]},
"mark": {"type": "line", "strokeWidth": 5, "strokeJoin": "round", "strokeCap": "round"},
"encoding": {
"x": {"field": "d", "type": "temporal",
 "scale": {"type": "utc", "domain": [{"year": 2008, "month": 1, "date": 1, "utc": true}, {"year": 2010, "month": 3, "date": 8, "utc": true}]},
 "axis": {"values": [{"year":2008,"month":1,"date":1,"utc":true},{"year":2008,"month":4,"date":1,"utc":true},{"year":2008,"month":7,"date":1,"utc":true},{"year":2008,"month":10,"date":1,"utc":true},{"year":2009,"month":1,"date":1,"utc":true},{"year":2009,"month":4,"date":1,"utc":true},{"year":2009,"month":7,"date":1,"utc":true},{"year":2009,"month":10,"date":1,"utc":true},{"year":2010,"month":1,"date":1,"utc":true}],
  "format": "%m/%y", "grid": false, "labelFontSize": 31, "labelColor": "black", "labelPadding": 34, "labelFlush": false,
  "tickSize": 12, "tickColor": "#8a8a8a", "tickWidth": 2, "domainColor": "#8a8a8a", "domainWidth": 2,
  "title": "Lähde: Bloomberg", "titleFontSize": 32, "titleFontWeight": "normal", "titleColor": "black",
  "titleX": -6, "titleY": 125, "titleAlign": "left", "titleBaseline": "middle"}},
"y": {"field": "v", "type": "quantitative",
 "scale": {"domain": [0, 4.5], "nice": false},
 "axis": {"values": [0, 0.5, 1, 1.5, 2, 2.5, 3, 3.5, 4, 4.5], "format": ".1f", "grid": true,
  "gridColor": "#8c8c8c", "gridWidth": 2, "labelFontSize": 31, "labelColor": "black", "labelPadding": 25,
  "tickSize": 10, "tickColor": "#8a8a8a", "tickWidth": 2, "domainColor": "#8a8a8a", "domainWidth": 2,
  "title": "Prosenttiyksikköä", "titleFontSize": 32, "titleFontWeight": "normal", "titleColor": "black",
  "titleAngle": 0, "titleX": -1, "titleY": -26, "titleAlign": "left", "titleBaseline": "middle"}},
"color": {"field": "s", "type": "nominal",
 "scale": {"domain": ["Kreikka", "Portugali", "Irlanti", "Espanja", "Italia"], "range": ["#5f4a7e", "#c00000", "#868686", "#77933c", "#4f81bd"]},
 "legend": {"orient": "none", "legendX": 291, "legendY": -84, "direction": "horizontal", "title": null, "padding": 0,
  "labelFontSize": 31, "labelColor": "black", "symbolType": "stroke", "symbolStrokeWidth": 5, "symbolSize": 1600,
  "labelOffset": 6, "columnPadding": 30}}
}
}
